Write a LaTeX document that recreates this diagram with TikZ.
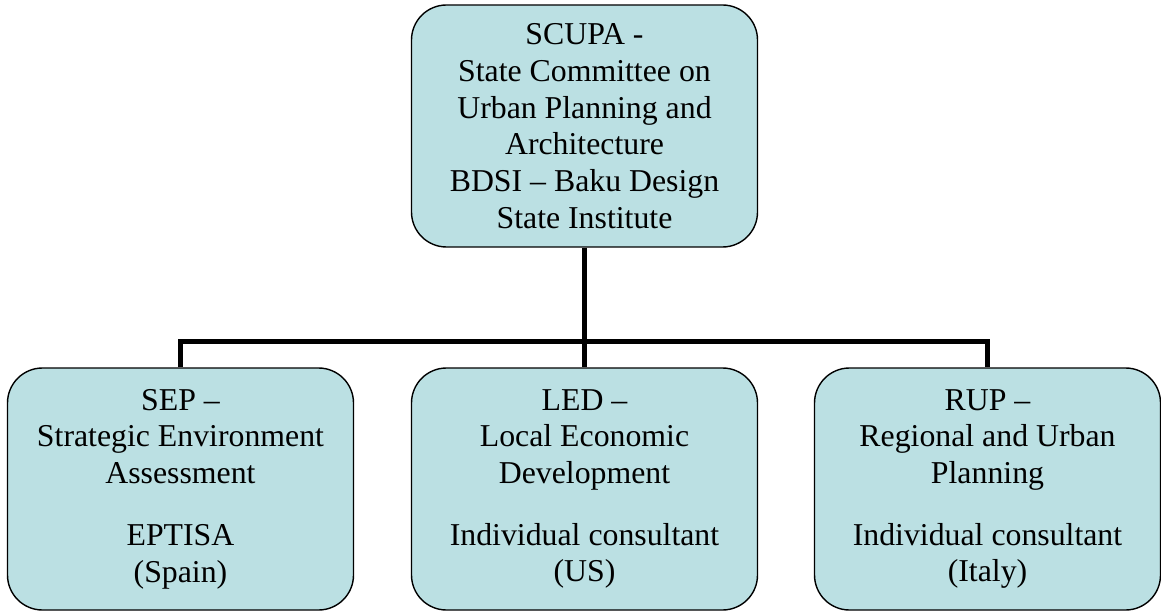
\documentclass[tikz,border=0pt]{standalone}
\usepackage{fontspec}
\setmainfont{Liberation Serif}
\usepackage{tikz}

\definecolor{boxfill}{RGB}{187,224,227}

\begin{document}
\begin{tikzpicture}[x=1pt,y=1pt,
  org node/.style={rectangle,rounded corners=35pt,fill=boxfill,draw,line width=1.4pt,
    minimum width=346pt,minimum height=242pt,inner sep=0pt,align=center,
    font=\fontsize{31.8}{36.7}\selectfont},
  link/.style={line width=5.5pt}]
  \useasboundingbox (0,0) rectangle (1161,-612);

  \node[org node] (scupa) at (584.5,-126) {SCUPA -\\State Committee on\\Urban Planning and\\Architecture\\BDSI – Baku Design\\State Institute};
  \node[org node,node distance=363pt] (led) [below of=scupa] {LED –\\Local Economic\\Development\\[25pt]Individual consultant\\(US)};
  \node[org node,node distance=404pt] (sep) [left of=led] {SEP –\\Strategic Environment\\Assessment\\[25pt]EPTISA\\(Spain)};
  \node[org node,node distance=403pt] (rup) [right of=led] {RUP –\\Regional and Urban\\Planning\\[25pt]Individual consultant\\(Italy)};

  \draw[link] (scupa.south) -- (led.north);
  \draw[link] (sep.north) -- ++(0,26) -| (rup.north);
\end{tikzpicture}
\end{document}
